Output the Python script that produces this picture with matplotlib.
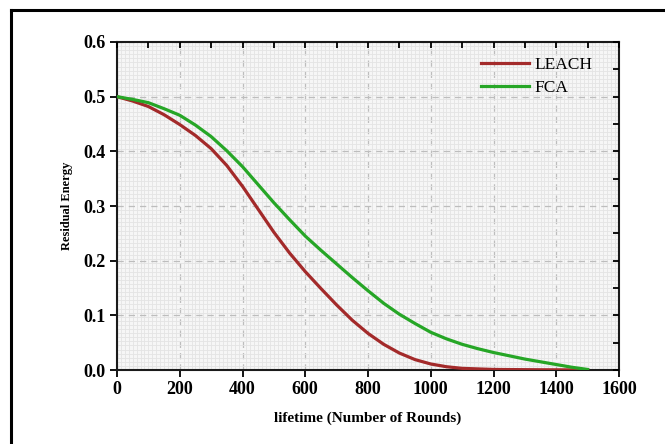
import numpy as np
import matplotlib
matplotlib.use("Agg")
import matplotlib.pyplot as plt
from matplotlib.lines import Line2D

rounds = list(range(0, 1501, 50))
leach = [0.500, 0.492, 0.482, 0.467, 0.449, 0.429, 0.405, 0.374, 0.336, 0.294,
         0.252, 0.214, 0.180, 0.149, 0.119, 0.091, 0.067, 0.047, 0.031, 0.019,
         0.011, 0.006, 0.003, 0.002, 0.001, 0.0008, 0.0006, 0.0004, 0.0003, 0.0002, 0.0]
fca = [0.500, 0.495, 0.489, 0.478, 0.466, 0.448, 0.427, 0.401, 0.372, 0.339,
       0.306, 0.275, 0.245, 0.219, 0.194, 0.169, 0.145, 0.122, 0.102, 0.085,
       0.069, 0.057, 0.047, 0.039, 0.032, 0.026, 0.020, 0.015, 0.010, 0.005, 0.001]
xticks = [0, 200, 400, 600, 800, 1000, 1200, 1400, 1600]
yticks = [0.0, 0.1, 0.2, 0.3, 0.4, 0.5, 0.6]

plt.rcParams['font.family'] = ['Liberation Serif', 'DejaVu Serif']

fig = plt.figure(figsize=(6.65, 4.44), dpi=100)
W, H = 665, 444
ax = fig.add_axes([117 / W, 1 - 370 / H, (619 - 117) / W, (370 - 42) / H])
ax.set_facecolor('#f6f6f6')

# fine background grid
ax.set_xticks(np.arange(0, 1601, 12.5), minor=True)
ax.set_yticks(np.arange(0, 0.6001, 0.0075), minor=True)
ax.grid(which='minor', color='#e4e4e4', linewidth=0.6)
ax.grid(which='major', color='#bdbdbd', linestyle=(0, (5, 4)), linewidth=0.9)
ax.tick_params(which='minor', length=0)

ax.plot(rounds, leach, color='#a32a2a', linewidth=2.3, label='LEACH', zorder=3)
ax.plot(rounds, fca, color='#26a626', linewidth=2.3, label='FCA', zorder=3)

ax.set_xlim(0, 1600)
ax.set_ylim(0, 0.6)
ax.set_xticks(xticks)
ax.set_yticks(yticks)
ax.set_xticklabels([str(v) for v in xticks], fontsize=13, fontweight='bold')
ax.set_yticklabels([f"{v:.1f}" for v in yticks], fontsize=13, fontweight='bold')
ax.tick_params(which='major', direction='out', length=5, width=1.3, pad=3)
for s in ax.spines.values():
    s.set_linewidth(1.5)
    s.set_color('#1a1a1a')

axT = ax.twiny()
axT.set_xlim(0, 1600)
axT.set_xticks(np.arange(0, 1601, 100))
axT.tick_params(direction='in', length=4, width=1.3, labeltop=False)
axR = ax.twinx()
axR.set_ylim(0, 0.6)
axR.set_yticks(np.arange(0, 0.601, 0.05))
axR.tick_params(direction='in', length=4, width=1.3, labelright=False)
for a in (axT, axR):
    for s in a.spines.values():
        s.set_visible(False)

ax.set_xlabel('lifetime (Number of Rounds)', fontsize=11, fontweight='bold', labelpad=10)
ax.set_ylabel('Residual Energy', fontsize=9, fontweight='bold', labelpad=8)

leg = ax.legend(loc='upper right', frameon=False, fontsize=12.5, handlelength=2.8,
                handletextpad=0.3, borderaxespad=0.2, labelspacing=0.35,
                bbox_to_anchor=(0.968, 0.985))

# outer frame (left and top edges)
fig.add_artist(Line2D([11 / W, 11 / W], [0, 1 - 10 / H], transform=fig.transFigure,
                      color='black', linewidth=2.2))
fig.add_artist(Line2D([11 / W, 1], [1 - 10 / H, 1 - 10 / H], transform=fig.transFigure,
                      color='black', linewidth=2.2))

fig.savefig('out.png', dpi=100)
